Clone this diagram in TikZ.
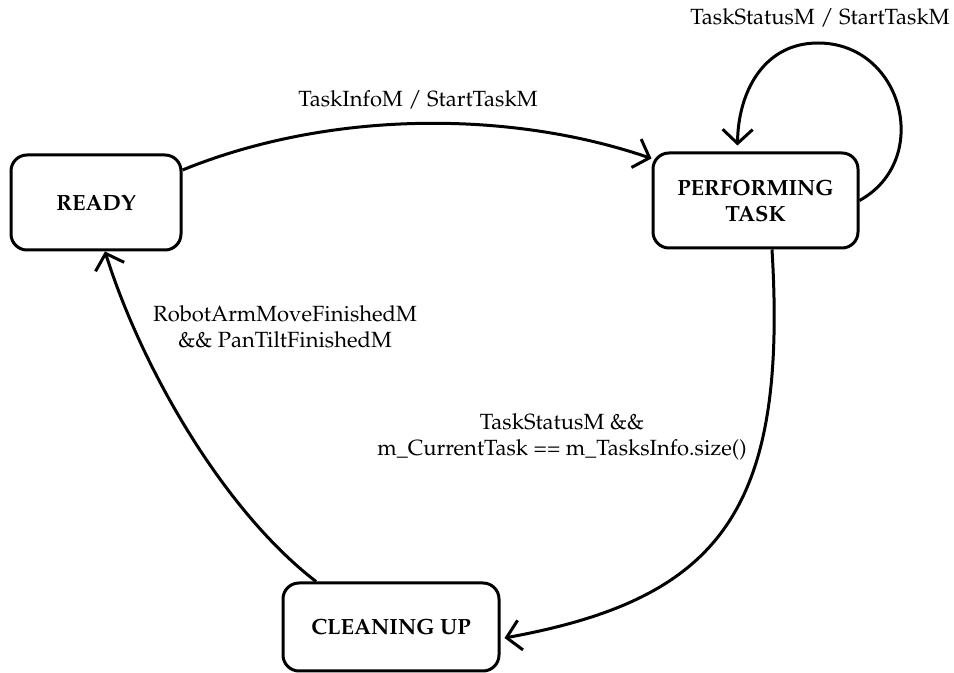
\documentclass[tikz,border=0pt]{standalone}
\usepackage[T1]{fontenc}
\usepackage{mathpazo}
\usetikzlibrary{arrows.meta}

\tikzset{
  state/.style={draw, line width=1.5pt, rounded corners=8pt, align=center,
    inner sep=0pt, font=\fontsize{11}{13}\selectfont\bfseries},
  trans/.style={line width=1.5pt, -{Straight Barb[length=7pt,width=15pt]}},
  cond/.style={align=center, inner sep=0pt, font=\fontsize{11}{13}\selectfont}
}

\begin{document}
\begin{tikzpicture}[x=0.5pt, y=-0.5pt]
  \useasboundingbox (0,0) rectangle (954,673);

  % states
  \node[state, minimum width=85pt, minimum height=47.5pt] (ready) at (96,202.5) {READY};
  \node[state, minimum width=102.5pt, minimum height=47.5pt] (perf) at (755.5,200.5) {PERFORMING\\TASK};
  \node[state, minimum width=108pt, minimum height=44pt] (clean) at (391,627) {CLEANING UP};

  % READY -> PERFORMING TASK
  \draw[trans] ([yshift=16.25pt]ready.east) .. controls (330,110) and (510,110) .. ([yshift=21pt]perf.west);

  % self loop on PERFORMING TASK
  \coordinate (looptop) at (818,43);
  \draw[trans] (perf.east) .. controls (933,160) and (903,43) .. (looptop)
     .. controls (763,43) and (738,93) .. ([xshift=-9pt,yshift=3pt]perf.north);

  % PERFORMING TASK -> CLEANING UP
  \draw[trans] ([xshift=8.25pt]perf.south) .. controls (788,513) and (718,599) .. ([xshift=2pt,yshift=-5.5pt]clean.east);

  % CLEANING UP -> READY
  \draw[trans] ([xshift=-37.5pt]clean.north) .. controls (222,509) and (141,366) .. ([xshift=4.5pt]ready.south);

  % transition labels
  \node[cond] (l1) at (418,100) {TaskInfoM / StartTaskM};
  \node[cond] (l2) at (820,18) {TaskStatusM / StartTaskM};
  \node[cond] (l3) at (285,327) {RobotArmMoveFinishedM\\\&\& PanTiltFinishedM};
  \node[cond] (l4) at (562,437) {TaskStatusM \&\&\\m\_CurrentTask == m\_TasksInfo.size()};
\end{tikzpicture}
\end{document}
